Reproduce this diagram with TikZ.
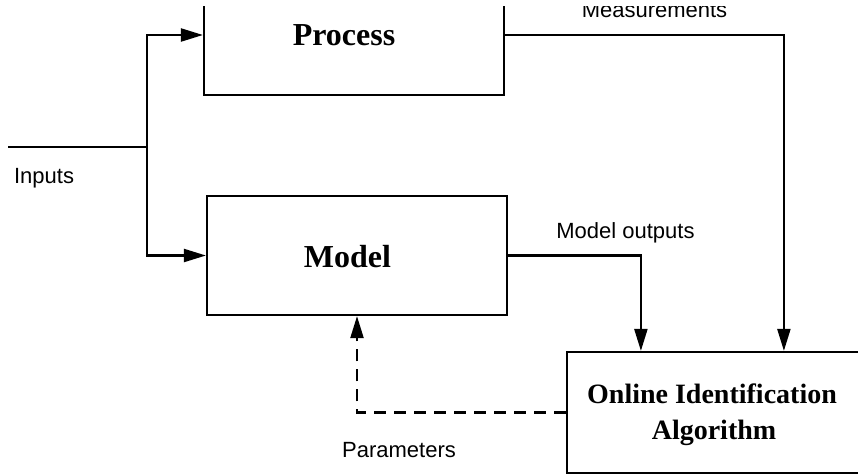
\documentclass[tikz,border=0pt]{standalone}
\usepackage{fontspec}
\setmainfont{Liberation Serif}
\newfontfamily\labelfont{Liberation Sans}
\usetikzlibrary{arrows.meta}
\begin{document}
\begin{tikzpicture}[x=1pt,y=-1pt,line width=2.2pt,
  box/.style={draw,line width=2.2pt,inner sep=0pt},
  title/.style={font=\fontsize{32}{36}\selectfont\bfseries,inner sep=0pt},
  titlesmall/.style={font=\fontsize{28}{34}\selectfont\bfseries,inner sep=0pt},
  lbl/.style={font=\labelfont\fontsize{22}{26}\selectfont,inner sep=0pt},
  arr/.style={-{Triangle[length=22pt,width=13pt]},line width=2.2pt},
  dasharr/.style={arr,dash pattern=on 12pt off 8pt}]
\useasboundingbox (0,0) rectangle (858,474);
\fill[white] (0,0) rectangle (858,474);
\clip (0,6) rectangle (858,474);
% boxes
\node[box,minimum width=300pt,minimum height=120pt] (process) at (354,35) {};
\node[box,minimum width=300pt,minimum height=119pt] (model) at (357,255.5) {};
\node[box,minimum width=293pt,minimum height=121pt] (online) at (713.5,412.5) {};
% titles
\node[title,anchor=base] (processtitle) at (344,45) {Process};
\node[title,anchor=base] (modeltitle) at (347.5,267) {Model};
\node[titlesmall,anchor=base] (onlinetitle1) at (712,403) {Online Identification};
\node[titlesmall,anchor=base] (onlinetitle2) at (714,439) {Algorithm};
% labels
\node[lbl,anchor=base west] (inputs) at (13,183) {Inputs};
\node[lbl,anchor=base] (meas) at (654.5,17) {Measurements};
\node[lbl,anchor=base] (modout) at (625.5,238) {Model outputs};
\node[lbl,anchor=base] (params) at (399,457) {Parameters};
% connectors
\coordinate (inp) at (8,147);
\coordinate (split) at (147,147);
\draw (inp) -- (split);
\draw[arr] (split) |- (process.west);
\draw[arr] (split) |- (model.west);
\draw[arr] (process.east) -| ([xshift=218pt]online.north west);
\draw[arr] (model.east) -| ([xshift=75pt]online.north west);
\draw[dasharr] (online.west) -| (model.south);
\end{tikzpicture}
\end{document}
